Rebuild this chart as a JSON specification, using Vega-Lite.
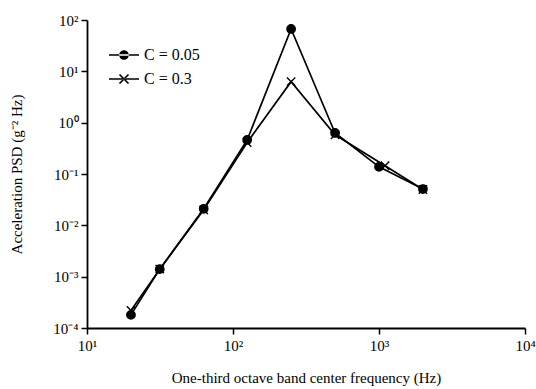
{
  "$schema": "https://vega.github.io/schema/vega-lite/v6.json",
  "width": 438,
  "height": 308,
  "autosize": {"type": "none"},
  "padding": {"left": 87, "top": 20, "right": 11, "bottom": 61},
  "background": "white",
  "config": {
    "view": {"stroke": null},
    "font": "Liberation Serif, Times New Roman, serif",
    "axis": {
      "grid": false,
      "labelFlush": false,
      "domainColor": "black",
      "domainWidth": 1.8,
      "tickColor": "black",
      "tickWidth": 1.5,
      "tickSize": 6,
      "labelFont": "Liberation Serif, Times New Roman, serif",
      "labelFontSize": 15,
      "labelColor": "black",
      "titleFont": "Liberation Serif, Times New Roman, serif",
      "titleFontSize": 15,
      "titleFontWeight": "normal",
      "titleColor": "black"
    },
    "legend": {
      "labelFont": "Liberation Serif, Times New Roman, serif",
      "labelFontSize": 16,
      "labelColor": "black"
    }
  },
  "data": {
    "values": [
      {"f": 20, "psd": 0.00018, "series": "C = 0.05"},
      {"f": 31.5, "psd": 0.0014, "series": "C = 0.05"},
      {"f": 63, "psd": 0.021, "series": "C = 0.05"},
      {"f": 125, "psd": 0.46, "series": "C = 0.05"},
      {"f": 250, "psd": 67, "series": "C = 0.05"},
      {"f": 500, "psd": 0.63, "series": "C = 0.05"},
      {"f": 1000, "psd": 0.138, "series": "C = 0.05"},
      {"f": 2000, "psd": 0.051, "series": "C = 0.05"},
      {"f": 20, "psd": 0.00022, "series": "C = 0.3"},
      {"f": 31.5, "psd": 0.0014, "series": "C = 0.3"},
      {"f": 63, "psd": 0.02, "series": "C = 0.3"},
      {"f": 125, "psd": 0.41, "series": "C = 0.3"},
      {"f": 250, "psd": 6.3, "series": "C = 0.3"},
      {"f": 500, "psd": 0.58, "series": "C = 0.3"},
      {"f": 1100, "psd": 0.145, "series": "C = 0.3"},
      {"f": 2000, "psd": 0.05, "series": "C = 0.3"}
    ]
  },
  "encoding": {
    "x": {
      "field": "f",
      "type": "quantitative",
      "scale": {"type": "log", "domain": [10, 10000], "nice": false},
      "axis": {
        "values": [10, 100, 1000, 10000],
        "labelExpr": "['10¹','10²','10³','10⁴'][round(log(datum.value)/LN10)-1]",
        "title": "One-third octave band center frequency (Hz)",
        "titlePadding": 17,
        "labelPadding": 4
      }
    },
    "y": {
      "field": "psd",
      "type": "quantitative",
      "scale": {"type": "log", "domain": [0.0001, 100], "nice": false},
      "axis": {
        "values": [0.0001, 0.001, 0.01, 0.1, 1, 10, 100],
        "labelExpr": "['10⁻⁴','10⁻³','10⁻²','10⁻¹','10⁰','10¹','10²'][round(log(datum.value)/LN10)+4]",
        "title": "Acceleration PSD (g⁻² Hz)",
        "titlePadding": 28,
        "labelPadding": 3
      }
    }
  },
  "layer": [
    {
      "mark": {"type": "line", "color": "black", "strokeWidth": 1.7},
      "encoding": {"detail": {"field": "series"}}
    },
    {
      "mark": {"type": "point", "filled": true, "fill": "black", "stroke": "black", "strokeWidth": 1.4, "size": 70, "opacity": 1},
      "encoding": {
        "shape": {
          "field": "series",
          "type": "nominal",
          "scale": {"domain": ["C = 0.05", "C = 0.3"], "range": ["circle", "M-1,-1L1,1M-1,1L1,-1"]},
          "legend": null
        }
      }
    },
    {
      "transform": [{"filter": "datum.f < 0"}],
      "mark": {"type": "point", "filled": true, "fill": "black", "opacity": 1},
      "encoding": {
        "shape": {
          "field": "series",
          "type": "nominal",
          "scale": {"domain": ["C = 0.05", "C = 0.3"], "range": [
            "M-1,-0.055H1V0.055H-1ZM-0.32,0A0.32,0.32 0 1,0 0.32,0A0.32,0.32 0 1,0 -0.32,0Z",
            "M-1,-0.055H1V0.055H-1ZM-0.26,-0.34L0.34,0.26L0.26,0.34L-0.34,-0.26ZM-0.26,0.34L0.34,-0.26L0.26,-0.34L-0.34,0.26Z"
          ]},
          "legend": {
            "title": null,
            "orient": "none",
            "legendX": 21,
            "legendY": 19,
            "symbolSize": 900,
            "symbolFillColor": "black",
            "symbolOpacity": 1,
            "labelOffset": 4,
            "rowPadding": -8
          }
        }
      }
    }
  ],
  "resolve": {"scale": {"shape": "independent"}, "legend": {"shape": "independent"}}
}
